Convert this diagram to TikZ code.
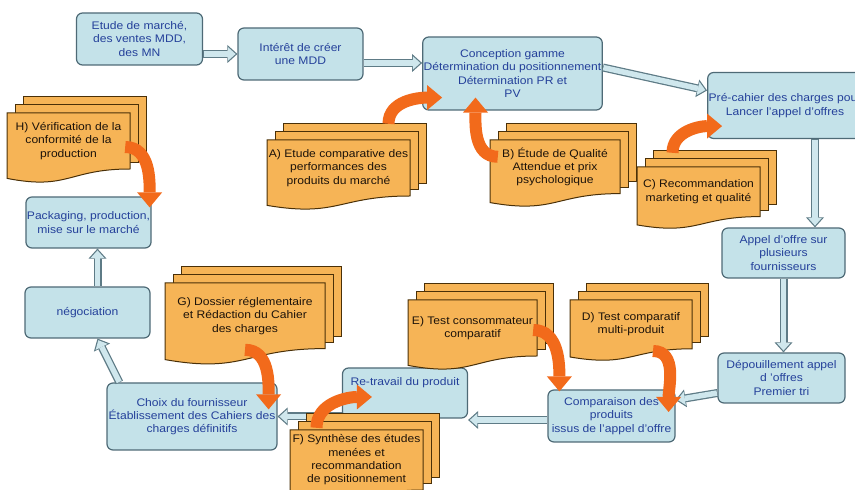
\documentclass[tikz,border=0pt]{standalone}
\usepackage{fontspec}
\setmainfont{Liberation Sans}[FakeStretch=1.1]
\usetikzlibrary{arrows.meta,calc}

\definecolor{boxfill}{HTML}{C4E2E9}
\definecolor{boxline}{HTML}{4E6A76}
\definecolor{boxtext}{HTML}{24409A}
\definecolor{pagefill}{HTML}{F6B456}
\definecolor{pageline}{HTML}{4A3008}
\definecolor{feedcol}{HTML}{F26A1B}
\definecolor{arrfill}{HTML}{CFE7ED}
\definecolor{arrline}{HTML}{5E7B86}

% name, cx, top, width, height, text
\newcommand\docstack[6]{%
  \foreach \k in {2,1}
    \draw[page] ({#2-#4/2+8*\k},{#3+8*\k}) rectangle ({#2+#4/2+8*\k},{#3-0.8*#5+6*\k});
  \draw[page] ({#2-#4/2},#3) -- ({#2+#4/2},#3) -- ({#2+#4/2},{#3-0.8*#5})
    .. controls (#2,{#3-0.8*#5}) and (#2,{#3-1.107*#5}) .. ({#2-#4/2},{#3-0.934*#5}) -- cycle;
  \node[doc, minimum width=#4, minimum height={0.8*#5}] (#1) at (#2,{#3-0.4*#5}) {#6};
}

\begin{document}
\begin{tikzpicture}[x=1pt, y=1pt,
    box/.style={draw=boxline, fill=boxfill, rounded corners=6pt, line width=1.2pt,
      text=boxtext, align=center, inner sep=1pt, font=\fontsize{11}{13.3}\selectfont},
    page/.style={draw=pageline, fill=pagefill, line width=1pt},
    doc/.style={align=center, inner sep=0pt, text=black!85!brown,
      font=\fontsize{11}{13.3}\selectfont},
    flow/.style={draw=arrline, line width=8pt, -{Triangle[length=10pt,width=18pt,line width=0pt]},
      postaction={draw=arrfill, line width=5.5pt, shorten >=1.8pt, shorten <=0.5pt,
        -{Triangle[length=7.5pt,width=13.5pt,line width=0pt]}}},
    feed/.style={draw=feedcol, line width=12pt, -{Triangle[length=15pt,width=25pt,line width=0pt]}}]
  \useasboundingbox (0,0) rectangle (855,490);

  % processus principal
  \node[box, minimum width=126, minimum height=52] (etude) at (139.5,451) {Etude de marché,\\des ventes MDD,\\des MN};
  \node[box, minimum width=125, minimum height=52] (interet) at (300.5,436) {Intérêt de créer\\une MDD};
  \node[box, minimum width=179, minimum height=73] (concept) at (512.5,416.5) {Conception gamme\\Détermination du positionnement\\Détermination PR et\\PV};
  \node[box, minimum width=146, minimum height=66] (precahier) at (785,384.5) {Pré-cahier des charges pour\\Lancer l'appel d'offres};
  \node[box, minimum width=123, minimum height=50] (appel) at (783.5,237) {Appel d'offre sur\\plusieurs\\fournisseurs};
  \node[box, minimum width=127, minimum height=50] (depouil) at (781.5,112) {Dépouillement appel\\d 'offres\\Premier tri};
  \node[box, minimum width=127, minimum height=52] (compar) at (611.5,74) {Comparaison des\\produits\\issus de l'appel d'offre};
  \node[box, minimum width=125, minimum height=50] (retravail) at (405,97) {Re-travail du produit\\[10pt]};
  \node[box, minimum width=170, minimum height=67] (choix) at (192,73.5) {Choix du fournisseur\\Établissement des Cahiers des\\charges définitifs};
  \node[box, minimum width=125, minimum height=51] (negoc) at (87.5,177.5) {négociation};
  \node[box, minimum width=123, minimum height=51] (pack) at (88.5,267.5) {Packaging, production,\\mise sur le marché};

  \draw[flow] (etude.east |- interet.west) -- (interet.west);
  \draw[flow] ($(interet.east)+(0,-9)$) -- ($(interet.east -| concept.west)+(0,-9)$);
  \draw[flow] ($(concept.east)+(0,6)$) -- ($(precahier.west)+(0,15)$);
  \draw[flow] ($(precahier.south)+(30,0)$) -- ($(appel.north)+(31.5,0)$);
  \draw[flow] (appel.south) -- (appel.south |- depouil.north);
  \draw[flow] ($(depouil.west)+(0,-15)$) -- ($(compar.east)+(0,16)$);
  \draw[flow] ($(compar.west)+(0,-4)$) -- ($(compar.west -| retravail.east)+(0,-4)$);
  \draw[flow] (retravail.south west |- choix.east) -- (choix.east);
  \draw[flow] ($(choix.north west)+(13,0)$) -- ($(negoc.south)+(10,0)$);
  \draw[flow] ($(negoc.north)+(10,0)$) -- ($(pack.south)+(9,0)$);

  % etudes en appui
  \docstack{H}{68.5}{377}{123}{70}{H) Vérification de la\\conformité de la\\production}
  \docstack{A}{338.5}{350}{143}{70}{A) Etude comparative des\\performances des\\produits du marché}
  \docstack{B}{555}{350}{130}{67}{B) Étude de Qualité\\Attendue et prix\\psychologique}
  \docstack{C}{698.5}{323}{123}{62}{C) Recommandation\\marketing et qualité}
  \docstack{G}{245}{207}{160}{82}{G) Dossier réglementaire\\et Rédaction du Cahier\\des charges}
  \docstack{E}{472.5}{190}{129}{70}{E) Test consommateur\\comparatif}
  \docstack{D}{631}{190}{122}{61}{D) Test comparatif\\multi-produit}
  \docstack{F}{356.5}{60}{133}{75}{F) Synthèse des études\\menées et\\recommandation\\de positionnement}

  \draw[feed] ($(H.east)+(-5,-6)$) to[out=0,in=90] ($(pack.north east)+(-2,-11)$);
  \draw[feed] ($(A.north)+(50,16)$) to[out=90,in=180] ($(concept.south west)+(20,13)$);
  \draw[feed] ($(B.west)+(8,10)$) to[out=180,in=-90] ($(concept.south)+(-37,13)$);
  \draw[feed] ($(C.north)+(-26,14)$) to[out=90,in=180] ($(precahier.south west)+(15,13)$);
  \draw[feed] ($(G.south)+(0,-1)$) to[out=0,in=90] ($(choix.north east)+(-9,-27)$);
  \draw[feed] ($(E.east)+(-4,-2)$) to[out=0,in=90] ($(compar.north west)+(12,-2)$);
  \draw[feed] ($(D.south)+(22,-2)$) to[out=0,in=90] ($(compar.east)+(-7,4)$);
  \draw[feed] ($(F.north)+(-40,2)$) to[out=90,in=180] ($(retravail.west)+(30,-4)$);
\end{tikzpicture}
\end{document}
